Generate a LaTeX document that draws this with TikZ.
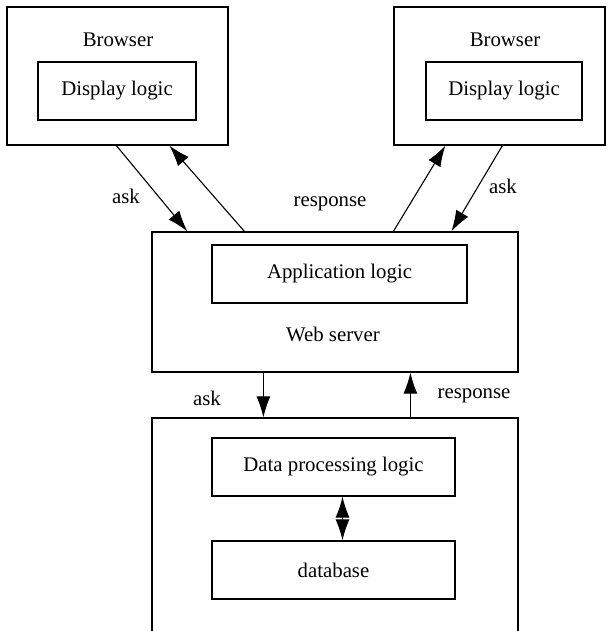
\documentclass[tikz,border=0pt]{standalone}
\usepackage{fontspec}
\setmainfont{Liberation Serif}
\usetikzlibrary{arrows.meta}
\begin{document}
\begin{tikzpicture}[x=1pt,y=-1pt,
  box/.style={draw,line width=1.2pt,inner sep=0pt},
  lbl/.style={font=\fontsize{20.8}{25}\selectfont,inner sep=0pt},
  arr/.style={line width=1.1pt,-{Latex[length=21pt,width=14pt]}},
  darr/.style={line width=1.1pt,{Latex[length=21pt,width=14pt]}-{Latex[length=21pt,width=14pt]}}]
\useasboundingbox (0,0) rectangle (610,631);
\clip (0,0) rectangle (610,631);
% browsers
\node[box,minimum width=221pt,minimum height=138pt] (b1) at (117.5,76) {};
\node[box,minimum width=158pt,minimum height=58pt,lbl] (d1) at (117,91) {Display logic};
\node[lbl] (t1) at (118,40) {Browser};
\node[box,minimum width=211pt,minimum height=138pt] (b2) at (499.5,76) {};
\node[box,minimum width=156pt,minimum height=58pt,lbl] (d2) at (504,91) {Display logic};
\node[lbl] (t2) at (505,40) {Browser};
% web server
\node[box,minimum width=366pt,minimum height=140pt] (ws) at (335,302) {};
\node[box,minimum width=255pt,minimum height=58pt,lbl] (al) at (339.5,274) {Application logic};
\node[lbl] (wst) at (333,334) {Web server};
% database server
\node[box,minimum width=366pt,minimum height=240pt] (ds) at (335,538) {};
\node[box,minimum width=243pt,minimum height=58pt,lbl] (dp) at (333.5,467) {Data processing logic};
\node[box,minimum width=243pt,minimum height=58pt,lbl] (db) at (333.5,570) {database};
% connectors
\draw[arr] ([xshift=110pt]b1.south west) -- ([xshift=36pt]ws.north west);
\draw[arr] ([xshift=93pt]ws.north west) -- ([xshift=163pt]b1.south west);
\draw[arr] ([xshift=242pt]ws.north west) -- ([xshift=52pt]b2.south west);
\draw[arr] ([xshift=109pt]b2.south west) -- ([xshift=300pt]ws.north west);
\draw[arr] ([xshift=112pt]ws.south west) -- ([xshift=112pt]ds.north west);
\draw[arr] ([xshift=259pt]ds.north west) -- ([xshift=259pt]ws.south west);
\draw[darr] ([xshift=9pt]dp.south) -- ([xshift=9pt]db.north);
% labels
\node[lbl] (l1) at (126,196) {ask};
\node[lbl] (l2) at (330,204) {response};
\node[lbl] (l3) at (503,186) {ask};
\node[lbl] (l4) at (207,398) {ask};
\node[lbl] (l5) at (474,396) {response};
\end{tikzpicture}
\end{document}
